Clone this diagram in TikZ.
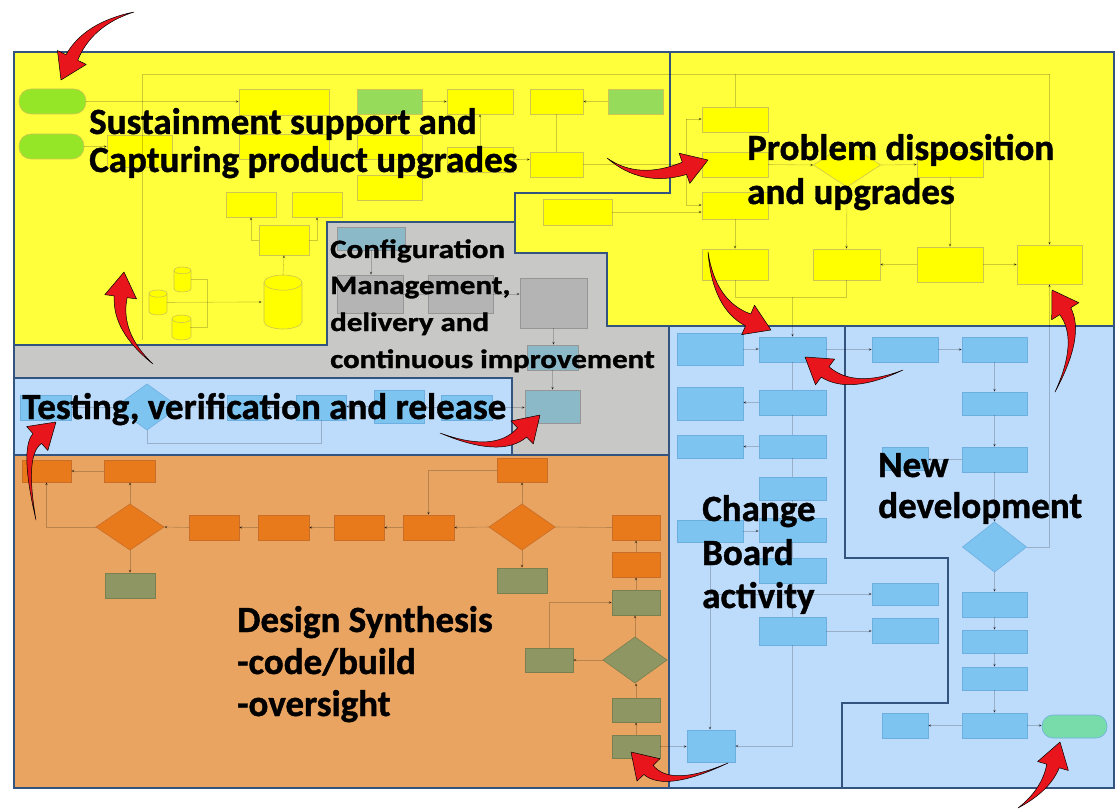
\documentclass[tikz,border=0pt]{standalone}
\usepackage{fontspec}
\setmainfont{Carlito}
\newfontfamily\hvy{Carlito}[BoldFeatures={FakeBold=1.1}]
\usepackage{graphicx}
\usetikzlibrary{calc,arrows.meta,shapes.geometric}
\definecolor{yel}{RGB}{255,255,60}
\definecolor{gry}{RGB}{200,200,198}
\definecolor{lblue}{RGB}{189,219,250}
\definecolor{orng}{RGB}{232,164,96}
\definecolor{frame}{RGB}{52,84,128}
\definecolor{ybx}{RGB}{255,255,0}
\definecolor{ybd}{RGB}{205,198,80}
\definecolor{gbx}{RGB}{150,220,90}
\definecolor{pillc}{RGB}{150,230,40}
\definecolor{bbx}{RGB}{125,196,240}
\definecolor{bbd}{RGB}{110,175,225}
\definecolor{obx}{RGB}{232,122,28}
\definecolor{obd}{RGB}{200,110,40}
\definecolor{ggx}{RGB}{142,150,100}
\definecolor{ggd}{RGB}{120,128,80}
\definecolor{qbx}{RGB}{180,180,180}
\definecolor{qbd}{RGB}{150,150,150}
\definecolor{tbx}{RGB}{140,185,200}
\definecolor{tpc}{RGB}{120,220,170}
\definecolor{arred}{RGB}{232,22,28}
\tikzset{
  region/.style={draw=frame, line width=1.6pt, line join=miter},
  fb/.style={inner sep=0pt, outer sep=0pt, line width=0.6pt},
  ybox/.style={fb, fill=ybx, draw=ybd},
  gbox/.style={fb, fill=gbx, draw=ybd},
  pillst/.style={fb, fill=pillc, draw=ybd, rounded corners=12pt},
  tpill/.style={fb, fill=tpc, draw=bbd, rounded corners=11pt},
  bbox/.style={fb, fill=bbx, draw=bbd},
  obox/.style={fb, fill=obx, draw=obd},
  ggbox/.style={fb, fill=ggx, draw=ggd},
  qbox/.style={fb, fill=qbx, draw=qbd},
  tbox/.style={fb, fill=tbx, draw=qbd},
  cylst/.style={fill=ybx, draw=ybd, line width=0.6pt},
  conn/.style={draw=black, draw opacity=0.2, line width=0.6pt},
  carr/.style={conn, -{Stealth[length=3.5pt,width=3pt]}},
  redarr/.style={fill=arred, draw=black, line width=0.5pt, line join=round},
  lab/.style={anchor=base west, inner sep=0pt, font=\hvy\fontsize{37}{40}\selectfont\bfseries},
  labc/.style={anchor=base west, inner sep=0pt, font=\hvy\fontsize{26.5}{30}\selectfont\bfseries},
}
\newcommand\bx[6]{\node[#2, minimum width={(#5-#3)*1pt}, minimum height={(#6-#4)*1pt}] (#1) at ({(#3+#5)/2},{(#4+#6)/2}) {};}
\newcommand\dia[5]{\node[#2, diamond, minimum width={#4*1pt}, minimum height={#5*1pt}] (#1) at (#3) {};}
\newcommand\cyl[5]{%
  \pgfmathsetmacro\cyr{(#4-#2)*0.2}%
  \pgfmathsetmacro\cyw{(#4-#2)/2}%
  \filldraw[cylst] (#2,#3+\cyr) -- (#2,#5-\cyr) arc[start angle=180,end angle=360,x radius={\cyw*1pt},y radius={\cyr*1pt}] -- (#4,#3+\cyr) arc[start angle=0,end angle=180,x radius={\cyw*1pt},y radius={\cyr*1pt}] -- cycle;
  \draw[cylst, fill=none] (#2,#3+\cyr) arc[start angle=180,end angle=360,x radius={\cyw*1pt},y radius={\cyr*1pt}];
  \coordinate (#1) at ({(#2+#4)/2},{(#3+#5)/2});}
\newcommand\redarrow[3]{%
  \coordinate (rA) at (#1);
  \coordinate (rP) at (#2);
  \coordinate (rT) at (#3);
  \coordinate (rH) at ($(rT)!25pt!(rP)$);
  \coordinate (rH1) at ($(rH)!16pt!90:(rT)$);
  \coordinate (rH2) at ($(rH)!16pt!-90:(rT)$);
  \coordinate (rS1) at ($(rH)!6.5pt!90:(rT)$);
  \coordinate (rS2) at ($(rH)!6.5pt!-90:(rT)$);
  \coordinate (rQ1) at ($(rP)!4pt!90:(rT)$);
  \coordinate (rQ2) at ($(rP)!4pt!-90:(rT)$);
  \filldraw[redarr] (rA) .. controls ($(rA)!0.667!(rQ1)$) and ($(rS1)!0.667!(rQ1)$) .. (rS1) -- (rH1) -- (rT) -- (rH2) -- (rS2) .. controls ($(rS2)!0.667!(rQ2)$) and ($(rA)!0.667!(rQ2)$) .. (rA) -- cycle;}
\begin{document}
\begin{tikzpicture}[x=1pt,y=-1pt]
\useasboundingbox (0,0) rectangle (1118,810);
\fill[white] (0,0) rectangle (1118,810);
% ---------- regions ----------
\filldraw[region, fill=yel] (14,52) -- (670,52) -- (670,193) -- (515,193) -- (515,222) -- (327,222) -- (327,345) -- (14,345) -- cycle;
\filldraw[region, fill=yel] (670,52) -- (1114,52) -- (1114,326) -- (607,326) -- (607,253) -- (515,253) -- (515,193) -- (670,193) -- cycle;
\filldraw[region, fill=gry] (14,345) -- (327,345) -- (327,222) -- (515,222) -- (515,253) -- (607,253) -- (607,326) -- (669,326) -- (669,455) -- (512,455) -- (512,378) -- (14,378) -- cycle;
\filldraw[region, fill=lblue] (14,378) rectangle (512,455);
\filldraw[region, fill=orng] (14,455) rectangle (669,788);
\filldraw[region, fill=lblue] (669,326) -- (845,326) -- (845,558) -- (948,558) -- (948,703) -- (842,703) -- (842,788) -- (669,788) -- cycle;
\filldraw[region, fill=lblue] (845,326) -- (1114,326) -- (1114,788) -- (842,788) -- (842,703) -- (948,703) -- (948,558) -- (845,558) -- cycle;
% ---------- sustainment boxes ----------
\bx{pA}{pillst}{19}{89}{86}{114}
\bx{pB}{pillst}{19}{134}{84}{159}
\bx{y1}{ybox}{239}{89}{329}{115}
\bx{y2}{ybox}{239}{134}{329}{159}
\bx{y3}{ybox}{107}{135}{172}{167}
\bx{y4}{ybox}{226}{192}{276}{217}
\bx{y5}{ybox}{292}{192}{342}{217}
\bx{y6}{ybox}{259}{225}{309}{255}
\bx{g1}{gbox}{357}{89}{422}{114}
\bx{y7}{ybox}{447}{89}{513}{114}
\bx{y8}{ybox}{530}{89}{583}{114}
\bx{g2}{gbox}{608}{89}{663}{114}
\bx{y9}{ybox}{357}{135}{422}{159}
\bx{y10}{ybox}{357}{175}{422}{200}
\bx{y11}{ybox}{447}{147}{513}{172}
\bx{y12}{ybox}{530}{152}{583}{177}
\cyl{cb}{264}{275}{302}{329}
\cyl{cs1}{174}{267}{191}{292}
\cyl{cs2}{149}{290}{167}{315}
\cyl{cs3}{172}{315}{191}{340}
% ---------- problem disposition boxes ----------
\bx{op}{ybox}{543}{199}{612}{225}
\bx{r1}{ybox}{702}{107}{768}{132}
\bx{r2}{ybox}{702}{152}{768}{177}
\bx{r3}{ybox}{702}{192}{768}{219}
\dia{rd}{ybox}{847,165}{67}{44}
\bx{r4}{ybox}{917}{152}{983}{177}
\bx{r5}{ybox}{702}{249}{768}{280}
\bx{r6}{ybox}{813}{249}{880}{280}
\bx{r7}{ybox}{917}{247}{983}{282}
\bx{r8}{ybox}{1017}{245}{1082}{284}
% ---------- configuration boxes ----------
\bx{t1}{tbox}{337}{227}{405}{250}
\bx{q1}{qbox}{337}{275}{403}{313}
\bx{q2}{qbox}{428}{275}{493}{313}
\bx{q3}{qbox}{520}{278}{587}{328}
\bx{t2}{tbox}{527}{345}{578}{370}
\bx{t3}{tbox}{525}{390}{580}{423}
% ---------- testing boxes ----------
\bx{s1}{bbox}{20}{395}{71}{420}
\dia{sd}{bbox}{147,407}{64}{46}
\bx{s2}{bbox}{227}{395}{267}{420}
\bx{s3}{bbox}{296}{395}{346}{420}
\bx{s4}{bbox}{374}{390}{424}{423}
\bx{s5}{bbox}{441}{395}{492}{420}
% ---------- design synthesis boxes ----------
\bx{o1}{obox}{22}{460}{71}{482}
\bx{o2}{obox}{104}{460}{155}{482}
\dia{od1}{obox}{130,527}{68}{46}
\bx{o3}{obox}{189}{515}{239}{540}
\bx{o4}{obox}{258}{515}{309}{540}
\bx{o5}{obox}{334}{515}{384}{540}
\bx{o6}{obox}{403}{515}{454}{540}
\dia{od2}{obox}{522,527}{66}{46}
\bx{o7}{obox}{612}{515}{660}{540}
\bx{o8}{obox}{497}{458}{547}{482}
\bx{k1}{ggbox}{105}{573}{155}{598}
\bx{k2}{ggbox}{497}{568}{547}{593}
\bx{o9}{obox}{612}{552}{660}{577}
\bx{k3}{ggbox}{612}{590}{660}{615}
\dia{kd}{ggbox}{635,660}{64}{46}
\bx{k4}{ggbox}{525}{648}{573}{672}
\bx{k5}{ggbox}{612}{698}{660}{722}
\bx{k6}{ggbox}{612}{735}{660}{758}
% ---------- change board boxes ----------
\bx{c1}{bbox}{677}{333}{743}{365}
\bx{c2}{bbox}{759}{337}{826}{362}
\bx{c3}{bbox}{677}{387}{743}{420}
\bx{c4}{bbox}{759}{390}{826}{415}
\bx{c5}{bbox}{677}{435}{743}{458}
\bx{c6}{bbox}{759}{435}{826}{458}
\bx{c7}{bbox}{759}{477}{826}{500}
\bx{c8}{bbox}{677}{520}{743}{542}
\bx{c9}{bbox}{759}{518}{826}{542}
\bx{c10}{bbox}{759}{558}{826}{583}
\bx{c11}{bbox}{759}{617}{826}{645}
\bx{c12}{bbox}{687}{730}{735}{762}
\bx{c13}{bbox}{872}{583}{938}{605}
\bx{c14}{bbox}{872}{618}{938}{643}
% ---------- new development boxes ----------
\bx{n1}{bbox}{872}{337}{938}{362}
\bx{n2}{bbox}{962}{337}{1027}{362}
\bx{n3}{bbox}{962}{392}{1027}{415}
\bx{n4}{bbox}{882}{447}{928}{470}
\bx{n5}{bbox}{962}{447}{1027}{472}
\dia{nd}{bbox}{994.5,547}{64}{50}
\bx{n6}{bbox}{962}{592}{1027}{617}
\bx{n7}{bbox}{962}{630}{1027}{653}
\bx{n8}{bbox}{962}{667}{1027}{690}
\bx{n9}{bbox}{962}{713}{1027}{738}
\bx{n10}{bbox}{882}{713}{928}{738}
\bx{n11}{tpill}{1042}{715}{1107}{738}
% ---------- faint connectors ----------
\coordinate (vt) at (142,74);
\coordinate (vb) at (142,340);
\coordinate (tr) at (1049.5,74);
\draw[conn] (vb) -- (vt) -- (tr);
\draw[carr] (tr) -- (r8.north);
\draw[carr] (pA.east) -- (pA.east -| y1.west);
\draw[carr] (pB.east) -- (pB.east -| y3.west);
\draw[carr] (g1.east) -- (g1.east -| y7.west);
\draw[carr] (g2.west) -- (g2.west -| y8.east);
\draw[conn] (y8.south) -- (y12.north);
\draw[carr] (y11.north) -- (y7.south);
\draw[carr] (y11.east) -- (y11.east -| y12.west);
\draw[carr] (y12.east) -- (y12.east -| r2.west);
\draw[carr] (y6.west) -| (y4.south);
\draw[carr] (y6.east) -| (y5.south);
\draw[carr] (cb) ++(0,-27) -- (y6.south);
\coordinate (cj) at (207,302);
\draw[conn] (cs1) ++(8,0) -| (cj);
\draw[conn] (cs3) ++(8,0) -| (cj);
\draw[carr] (cs2) ++(9,0) -- ($(cj)+(38,0)$) -- ($(cj)+(55,0)$);
\draw[carr] (op.east) -- (op.east -| r3.west);
\draw[carr] (r2.east) -- (rd.west);
\draw[carr] (rd.east) -- (r4.west);
\draw[carr] (rd.south) -- (r6.north);
\draw[carr] (r4.south) -- (r4.south |- r7.north);
\draw[carr] (r7.west) -- (r7.west -| r6.east);
\draw[carr] (r7.east) -- (r7.east -| r8.west);
\draw[carr] (r3.south) -- (r5.north);
\draw[conn] (r1.north) -- (r1.north |- vt);
\coordinate (bt) at (686,119);
\coordinate (bb) at (686,205);
\draw[conn] (bt) -- (bb);
\draw[carr] (bt) -- (bt -| r1.west);
\draw[carr] (bb) -- (bb -| r3.west);
\coordinate (lb) at (735,297);
\coordinate (rb) at (846.5,297);
\draw[conn] (r5.south) -- (lb) -- (rb) -- (r6.south);
\draw[carr] (lb -| c2.north) -- (c2.north);
\draw[carr] (t1.south) -- (t1.south |- q1.north);
\draw[carr] (q1.east) -- (q2.west);
\draw[carr] (q2.east) -- (q2.east -| q3.west);
\draw[carr] (q3.south) -- (q3.south |- t2.north);
\draw[carr] (t2.south) -- (t2.south |- t3.north);
\draw[carr] (sd.west) -- (sd.west -| s1.east);
\draw[carr] (s2.west) -- (sd.east);
\draw[carr] (s3.west) -- (s2.east);
\draw[carr] (s4.west) -- (s4.west -| s3.east);
\draw[carr] (s5.west) -- (s5.west -| s4.east);
\draw[conn] (sd.south) |- ($(s3.south)+(0,23)$) -- (s3.south);
\draw[carr] (s5.east) -- (s5.east -| t3.west);
\draw[carr] (o3.west) -- (od1.east);
\draw[carr] (o4.west) -- (o3.east);
\draw[carr] (o5.west) -- (o4.east);
\draw[carr] (o6.west) -- (o5.east);
\draw[carr] (od2.west) -- (o6.east);
\draw[carr] (od1.north) -- (od1.north |- o2.south);
\draw[carr] (o2.west) -- (o1.east);
\draw[carr] (od1.west) -| (o1.south);
\draw[carr] (od1.south) -- (od1.south |- k1.north);
\draw[carr] (od2.south) -- (od2.south |- k2.north);
\draw[carr] (od2.north) -- (od2.north |- o8.south);
\draw[carr] (o8.west) -| (o6.north);
\draw[conn] (od2.east) -- (o7.west);
\draw[carr] (o9.north) -- (o7.south);
\draw[carr] (k3.north) -- (o9.south);
\draw[carr] (kd.north) -- (kd.north |- k3.south);
\draw[carr] (kd.west) -- (kd.west -| k4.east);
\draw[carr] (k4.north) |- (k3.west);
\draw[carr] (k5.north) -- (k5.north |- kd.south);
\draw[carr] (k6.north) -- (k5.south);
\draw[carr] (k6.east) -- (k6.east -| c12.west);
\draw[carr] (c1.east) -- (c1.east -| c2.west);
\draw[carr] (c4.west) -- (c4.west -| c3.east);
\draw[carr] (c6.west) -- (c5.east);
\draw[conn] (c2.south) -- (c4.north) (c4.south) -- (c6.north) (c6.south) -- (c7.north) (c7.south) -- (c9.north) (c9.south) -- (c10.north) (c10.south) -- (c11.north);
\draw[carr] (c8.east) -- (c8.east -| c9.west);
\draw[carr] (c8.south) -- (c8.south |- c12.north);
\coordinate (hj) at (710,594);
\draw[carr] (hj) -- (hj -| c13.west);
\draw[carr] (c11.south) |- (c12.east);
\draw[carr] (c11.east) -- (c11.east -| c14.west);
\draw[carr] (c2.east) -- (c2.east -| n1.west);
\draw[carr] (n1.east) -- (n1.east -| n2.west);
\draw[carr] (n2.south) -- (n3.north);
\draw[carr] (n3.south) -- (n5.north);
\draw[carr] (n5.west) -- (n5.west -| n4.east);
\draw[carr] (n5.south) -- (n5.south |- nd.north);
\draw[carr] (nd.south) -- (nd.south |- n6.north);
\draw[carr] (n6.south) -- (n7.north);
\draw[carr] (n7.south) -- (n8.north);
\draw[carr] (n8.south) -- (n9.north);
\draw[carr] (n9.west) -- (n9.west -| n10.east);
\draw[carr] (n9.east) -- (n9.east -| n11.west);
\coordinate (nj) at (1049.5,547);
\draw[carr] (nd.east) -- (nj) -- (r8.south);
% ---------- labels ----------
\node[lab] (L1a) at (89,134) {Sustainment support and};
\node[lab] (L1b) at (89,172) {Capturing product upgrades};
\node[lab] (L2a) at (747,160) {Problem disposition};
\node[lab] (L2b) at (747,204) {and upgrades};
\node[labc] (L3a) at (330,258) {\scalebox{1.17}[1]{Configuration}};
\node[labc] (L3b) at (330,294) {\scalebox{1.17}[1]{Management,}};
\node[labc] (L3c) at (330,331) {\scalebox{1.17}[1]{delivery and}};
\node[labc] (L3d) at (330,368) {\scalebox{1.17}[1]{continuous improvement}};
\node[lab] (L4) at (22,419) {Testing, verification and release};
\node[lab] (L5a) at (237,632) {Design Synthesis};
\node[lab] (L5b) at (237,674) {-code/build};
\node[lab] (L5c) at (237,716) {-oversight};
\node[lab] (L6a) at (702,521) {Change};
\node[lab] (L6b) at (702,565) {Board};
\node[lab] (L6c) at (702,608) {activity};
\node[lab] (L7a) at (878,477) {New};
\node[lab] (L7b) at (878,518) {development};
% ---------- red arrows ----------
\redarrow{134,12}{88,24}{61,80}
\redarrow{153,364}{116,332}{124,272}
\redarrow{607,158}{640,184}{708,160}
\redarrow{708,252}{714,305}{771,330}
\redarrow{903,370}{852,392}{805,357}
\redarrow{1055,392}{1082,338}{1052,290}
\redarrow{440,433}{498,456}{540,415}
\redarrow{36,520}{22,452}{56,422}
\redarrow{728,763}{668,790}{631,752}
\redarrow{1018,808}{1046,790}{1060,742}
\end{tikzpicture}
\end{document}
